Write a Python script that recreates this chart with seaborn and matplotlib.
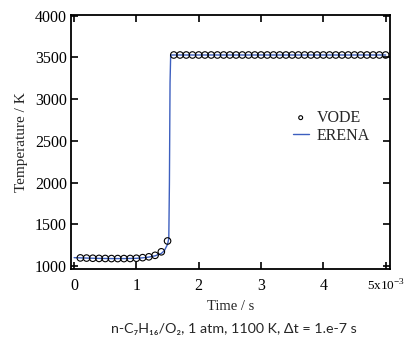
import numpy as np
import pandas as pd
import matplotlib
matplotlib.use("Agg")
import matplotlib.pyplot as plt
import seaborn as sns

# VODE reference points (time in 1e-3 s, temperature K)
vode_t = [0.1, 0.2, 0.3, 0.4, 0.5, 0.6, 0.7, 0.8, 0.9, 1.0, 1.1, 1.2, 1.3, 1.4, 1.5,
          1.6, 1.7, 1.8, 1.9, 2.0, 2.1, 2.2, 2.3, 2.4, 2.5, 2.6, 2.7, 2.8, 2.9, 3.0,
          3.1, 3.2, 3.3, 3.4, 3.5, 3.6, 3.7, 3.8, 3.9, 4.0, 4.1, 4.2, 4.3, 4.4, 4.5,
          4.6, 4.7, 4.8, 4.9, 5.0]
vode_T = [1097, 1095, 1093, 1091, 1090, 1089, 1089, 1089, 1090, 1093, 1100, 1110, 1128, 1170, 1300,
          3530, 3530, 3530, 3530, 3530, 3530, 3530, 3530, 3530, 3530, 3530, 3530, 3530, 3530, 3530,
          3530, 3530, 3530, 3530, 3530, 3530, 3530, 3530, 3530, 3530, 3530, 3530, 3530, 3530, 3530,
          3530, 3530, 3530, 3530, 3530]

# ERENA solution line
erena_t = [0.0, 0.2, 0.4, 0.6, 0.8, 1.0, 1.1, 1.2, 1.3, 1.4, 1.45, 1.5, 1.52, 1.53, 1.54, 1.55, 2.0, 3.0, 4.0, 5.0]
erena_T = [1100, 1095, 1091, 1089, 1089, 1092, 1098, 1107, 1122, 1150, 1185, 1260, 1330, 2000, 3200, 3530, 3530, 3530, 3530, 3530]

xticks = [0, 1, 2, 3, 4, 5]
xticklabels = ["0", "1", "2", "3", "4", "5x10$^{-3}$"]
yticks = [1000, 1500, 2000, 2500, 3000, 3500, 4000]

sns.set_style("ticks")
plt.rcParams['font.family'] = ['Liberation Serif', 'DejaVu Serif']
plt.rcParams['mathtext.fontset'] = 'custom'
plt.rcParams['mathtext.rm'] = 'Liberation Serif'

fig = plt.figure(figsize=(4.04, 3.44), dpi=100)
ax = fig.add_axes([0.1757, 0.219, 0.7896, 0.738])

df_v = pd.DataFrame({"t": vode_t, "T": vode_T})
df_e = pd.DataFrame({"t": erena_t, "T": erena_T})

sns.lineplot(data=df_e, x="t", y="T", ax=ax, color="#3d5fbf", linewidth=1.0,
             label="ERENA", sort=False, estimator=None, zorder=2)
sns.scatterplot(data=df_v, x="t", y="T", ax=ax, marker="o", s=22,
                facecolor="none", edgecolor="black", linewidth=0.8,
                label="VODE", zorder=3)

ax.set_xlim(-0.05, 5.07)
ax.set_ylim(968, 4012)
ax.set_xticks(xticks)
ax.set_xticklabels(xticklabels)
ax.set_yticks(yticks)
ax.tick_params(direction="in", top=True, right=True, length=5, width=1.2,
               labelsize=11.5, colors="black")
ax.tick_params(axis="x", pad=7)
ax.tick_params(axis="y", pad=3)
ax.get_xticklabels()[-1].set_fontsize(9.5)
for sp in ax.spines.values():
    sp.set_visible(True)
    sp.set_linewidth(1.3)
    sp.set_color("black")

ax.set_xlabel("Time / s", fontsize=10.5, labelpad=4)
ax.set_ylabel("Temperature / K", fontsize=11, labelpad=5)

handles, labels = ax.get_legend_handles_labels()
order = [labels.index("VODE"), labels.index("ERENA")]
leg = ax.legend([handles[i] for i in order], [labels[i] for i in order],
                loc="upper left", bbox_to_anchor=(0.67, 0.657), frameon=False,
                fontsize=11.5, handlelength=1.0, handletextpad=0.5,
                labelspacing=0.12, markerscale=0.6, borderpad=0.0)

fig.text(0.578, 0.045, "n-C₇H₁₆/O₂, 1 atm, 1100 K, Δt = 1.e-7 s",
         ha="center", va="center", fontsize=10.3, family=["Lato", "Noto Sans", "DejaVu Sans"])

fig.savefig("out.png", dpi=100)
